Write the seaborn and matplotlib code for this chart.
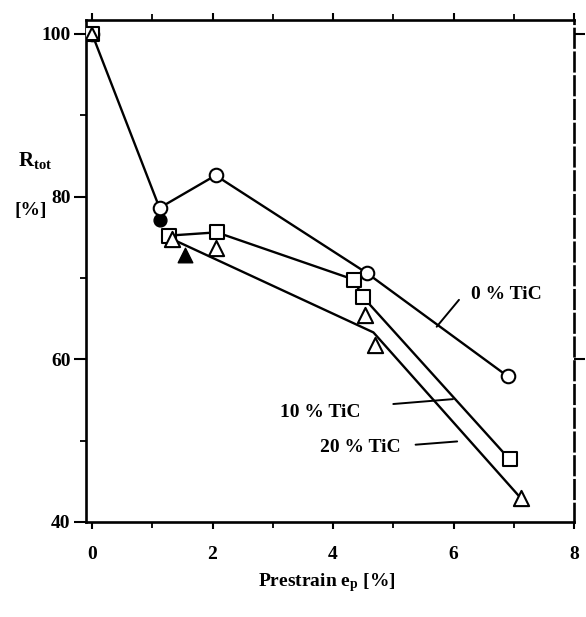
import matplotlib
matplotlib.use("Agg")
import matplotlib.pyplot as plt
import seaborn as sns

# Measured recovery R_tot [%] against prestrain e_p [%]
strain_0 = [0.0, 1.12, 2.05, 4.56, 6.90]
rtot_0 = [100, 78.6, 82.6, 70.6, 57.9]

strain_10 = [0.0, 1.28, 2.07, 4.34, 4.49, 6.93]
rtot_10 = [100, 75.2, 75.6, 69.8, 67.7, 47.7]

strain_20 = [0.0, 1.32, 2.06, 4.53, 4.69, 7.12]
rtot_20 = [100, 74.8, 73.7, 65.4, 61.7, 42.9]

# Additional single measurements (filled symbols)
strain_10_extra = [1.13]
rtot_10_extra = [77.1]
strain_20_extra = [1.55]
rtot_20_extra = [72.8]

# Hand-drawn trend curves
curve_0_x = strain_0
curve_0_y = rtot_0
curve_10_x = strain_10[1:]
curve_10_y = rtot_10[1:]
curve_20_x = [1.32, 4.67, 7.12]
curve_20_y = [74.8, 63.3, 42.9]

x_ticks = [0, 2, 4, 6, 8]
y_ticks = [40, 60, 80, 100]

sns.set_theme(style="white")
plt.rcParams["font.family"] = ["Liberation Serif", "DejaVu Serif"]
plt.rcParams["mathtext.fontset"] = "custom"
plt.rcParams["mathtext.rm"] = "Liberation Serif"
plt.rcParams["mathtext.it"] = "Liberation Serif:italic"
plt.rcParams["mathtext.bf"] = "Liberation Serif:bold"
plt.rcParams["text.color"] = "black"
plt.rcParams["axes.labelcolor"] = "black"
plt.rcParams["xtick.color"] = "black"
plt.rcParams["ytick.color"] = "black"

fig = plt.figure(figsize=(5.86, 6.17), dpi=100)
ax = fig.add_axes([0.1468, 0.154, 0.8328, 0.8136])

line_kw = dict(color="black", linewidth=1.7, sort=False, estimator=None, ax=ax)
sns.lineplot(x=curve_0_x, y=curve_0_y, **line_kw)
sns.lineplot(x=curve_10_x, y=curve_10_y, **line_kw)
sns.lineplot(x=curve_20_x, y=curve_20_y, **line_kw)

open_kw = dict(color="white", edgecolor="black", linewidth=1.5, zorder=3, ax=ax)
sns.scatterplot(x=strain_0, y=rtot_0, marker="o", s=95, **open_kw)
sns.scatterplot(x=strain_10, y=rtot_10, marker="s", s=95, **open_kw)
sns.scatterplot(x=strain_20[1:], y=rtot_20[1:], marker="^", s=120, **open_kw)
# common starting point: triangle drawn hollow inside the square
sns.scatterplot(x=strain_20[:1], y=rtot_20[:1], marker="^", s=80,
                facecolor="none", edgecolor="black", linewidth=1.5, zorder=3.5, ax=ax)

filled_kw = dict(color="black", edgecolor="black", linewidth=1.0, zorder=2.5, ax=ax)
sns.scatterplot(x=strain_10_extra, y=rtot_10_extra, marker="o", s=85, **filled_kw)
sns.scatterplot(x=strain_20_extra, y=rtot_20_extra, marker="^", s=110, **filled_kw)

ax.set_xlim(-0.1, 8.0)
ax.set_ylim(40, 101.7)
ax.set_xticks(x_ticks)
ax.set_xticklabels([str(t) for t in x_ticks])
ax.set_xticks([1, 3, 5, 7], minor=True)
ax.set_yticks(y_ticks)
ax.set_yticklabels([str(t) for t in y_ticks])
ax.set_yticks([50, 70, 90], minor=True)

ax.tick_params(axis="x", which="major", direction="out", length=5, width=1.5,
               bottom=True, top=True, pad=12, labelsize=14, colors="black")
ax.tick_params(axis="x", which="minor", direction="out", length=4, width=1.3,
               bottom=True, top=True, colors="black")
ax.tick_params(axis="y", which="major", direction="out", length=9, width=1.5,
               left=True, right=False, pad=2, labelsize=14, colors="black")
ax.tick_params(axis="y", which="minor", direction="out", length=4, width=1.3,
               left=True, right=False, colors="black")
for lab in ax.get_xticklabels() + ax.get_yticklabels():
    lab.set_fontweight("bold")

right_ax = ax.secondary_yaxis("right")
right_ax.set_yticks([60, 100])
right_ax.tick_params(direction="out", length=8, width=1.5, labelright=False,
                     colors="black")
right_ax.spines["right"].set_visible(False)

for side in ["left", "bottom", "top", "right"]:
    ax.spines[side].set_visible(True)
    ax.spines[side].set_color("black")
    ax.spines[side].set_linewidth(1.9)
ax.spines["right"].set_linestyle((0, (7, 2)))
ax.set_xlabel("")
ax.set_ylabel("")

# Series labels with leader lines
label_kw = dict(fontsize=14, fontweight="bold", ha="center", va="center",
                color="black")
ax.text(6.87, 67.9, "0 % TiC", **label_kw)
ax.plot([6.09, 5.72], [67.3, 64.0], color="black", linewidth=1.4)
ax.text(3.79, 53.4, "10 % TiC", **label_kw)
ax.plot([5.00, 5.99], [54.5, 55.1], color="black", linewidth=1.4)
ax.text(4.46, 49.1, "20 % TiC", **label_kw)
ax.plot([5.37, 6.06], [49.5, 49.9], color="black", linewidth=1.4)

fig.text(18 / 586, 1 - 160 / 617, r"R$_{\mathbf{tot}}$", fontsize=15,
         fontweight="bold", ha="left", va="center", color="black")
fig.text(15 / 586, 1 - 210 / 617, "[%]", fontsize=14, fontweight="bold",
         ha="left", va="center", color="black")
fig.text(327 / 586, 1 - 583 / 617, r"Prestrain e$_{\mathbf{p}}$ [%]", fontsize=14,
         fontweight="bold", ha="center", va="center", color="black")

fig.savefig("out.png", dpi=100, facecolor="white")
